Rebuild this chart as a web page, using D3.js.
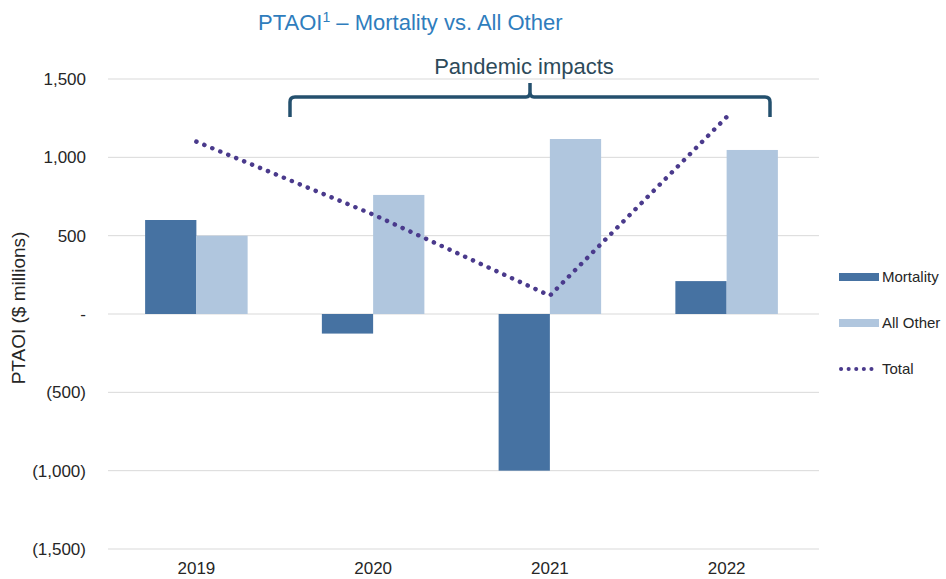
<!DOCTYPE html>
<html>
<head>
<meta charset="utf-8">
<script src="https://cdn.jsdelivr.net/npm/d3@7"></script>
<style>
  body { margin: 0; background: #fff; }
  text { font-family: "Liberation Sans", Arial, sans-serif; }
</style>
</head>
<body>
<div id="chart-area"></div>
<script>
const years = ["2019", "2020", "2021", "2022"];
const mortality = [600, -125, -1000, 210];
const allOther = [500, 760, 1117, 1047];
const total = [1100, 635, 117, 1257];
const yTicks = [-1500, -1000, -500, 0, 500, 1000, 1500];

const width = 946, height = 579;
const margin = { left: 108, right: 131, top: 79, bottom: 30 };

const svg = d3.select("#chart-area")
  .append("svg")
  .attr("width", width)
  .attr("height", height);

const x = d3.scaleBand()
  .domain(years)
  .range([margin.left, width - margin.right])
  .paddingInner(0.42)
  .paddingOuter(0.21);

const y = d3.scaleLinear()
  .domain([-1500, 1500])
  .range([height - margin.bottom, margin.top]);

const fmt = v => v === 0 ? "-" : (v < 0 ? "(" + d3.format(",")(-v) + ")" : d3.format(",")(v));

// gridlines
svg.append("g")
  .selectAll("line")
  .data(yTicks)
  .enter()
  .append("line")
  .attr("x1", margin.left)
  .attr("x2", width - margin.right + 4)
  .attr("y1", d => y(d))
  .attr("y2", d => y(d))
  .attr("stroke", "#d9d9d9")
  .attr("stroke-width", 1);

// y axis labels
const yAxis = d3.axisLeft(y).tickValues(yTicks).tickFormat(fmt).tickSize(0).tickPadding(22);
svg.append("g")
  .attr("transform", `translate(${margin.left},0)`)
  .call(yAxis)
  .call(g => g.select(".domain").remove())
  .selectAll("text")
  .attr("font-size", 17)
  .attr("fill", "#262626");

// x axis labels
const xAxis = d3.axisBottom(x).tickSize(0).tickPadding(13);
svg.append("g")
  .attr("transform", `translate(0,${y(-1500)})`)
  .call(xAxis)
  .call(g => g.select(".domain").remove())
  .selectAll("text")
  .attr("font-size", 17)
  .attr("fill", "#262626");

const bw = x.bandwidth() / 2;

// Mortality bars
svg.selectAll(".mort")
  .data(mortality)
  .enter()
  .append("rect")
  .attr("x", (_, i) => x(years[i]))
  .attr("y", d => y(Math.max(0, d)))
  .attr("width", bw)
  .attr("height", d => Math.abs(y(d) - y(0)))
  .attr("fill", "#4672a2");

// All Other bars
svg.selectAll(".other")
  .data(allOther)
  .enter()
  .append("rect")
  .attr("x", (_, i) => x(years[i]) + bw)
  .attr("y", d => y(Math.max(0, d)))
  .attr("width", bw)
  .attr("height", d => Math.abs(y(d) - y(0)))
  .attr("fill", "#b0c6de");

// Total line
const line = d3.line()
  .x((_, i) => x(years[i]) + bw)
  .y(d => y(d));

svg.append("path")
  .datum(total)
  .attr("d", line)
  .attr("fill", "none")
  .attr("stroke", "#4a3a8c")
  .attr("stroke-width", 4.5)
  .attr("stroke-linecap", "round")
  .attr("stroke-dasharray", "0.1 8.5");

// Title
svg.append("text")
  .attr("x", 258)
  .attr("y", 30)
  .attr("font-size", 22)
  .attr("fill", "#2f7dbd")
  .html('PTAOI<tspan font-size="14" dy="-8">1</tspan><tspan dy="8"> – Mortality vs. All Other</tspan>');

// y label
svg.append("text")
  .attr("transform", `translate(25,${y(0) - 6}) rotate(-90)`)
  .attr("text-anchor", "middle")
  .attr("font-size", 19)
  .attr("fill", "#262626")
  .text("PTAOI ($ millions)");

// brace
const bx1 = 290, bx2 = 770, bmid = 530, btop = 97, bbot = 117;
svg.append("path")
  .attr("d", `M${bx1},${bbot} L${bx1},${btop + 5} Q${bx1},${btop} ${bx1 + 5},${btop}
              L${bmid - 4},${btop} Q${bmid},${btop} ${bmid},${btop - 5} L${bmid},${btop - 14}
              M${bmid},${btop - 5} Q${bmid},${btop} ${bmid + 4},${btop}
              L${bx2 - 5},${btop} Q${bx2},${btop} ${bx2},${btop + 5} L${bx2},${bbot}`)
  .attr("fill", "none")
  .attr("stroke", "#24506e")
  .attr("stroke-width", 3.5);

svg.append("text")
  .attr("x", 524)
  .attr("y", 74)
  .attr("text-anchor", "middle")
  .attr("font-size", 22)
  .attr("fill", "#2d4a5a")
  .text("Pandemic impacts");

// legend
const legend = svg.append("g").attr("transform", "translate(839,0)");
const items = [
  { name: "Mortality", color: "#4672a2", y: 277, type: "bar" },
  { name: "All Other", color: "#b0c6de", y: 323, type: "bar" },
  { name: "Total", color: "#4a3a8c", y: 369, type: "line" }
];
items.forEach(it => {
  if (it.type === "bar") {
    legend.append("rect")
      .attr("x", 0).attr("y", it.y - 4)
      .attr("width", 40).attr("height", 8)
      .attr("fill", it.color);
  } else {
    legend.append("line")
      .attr("x1", 2).attr("x2", 40)
      .attr("y1", it.y).attr("y2", it.y)
      .attr("stroke", it.color)
      .attr("stroke-width", 4)
      .attr("stroke-linecap", "round")
      .attr("stroke-dasharray", "0.1 7.5");
  }
  legend.append("text")
    .attr("x", 43).attr("y", it.y + 5)
    .attr("font-size", 15)
    .attr("fill", "#262626")
    .text(it.name);
});
</script>
</body>
</html>
